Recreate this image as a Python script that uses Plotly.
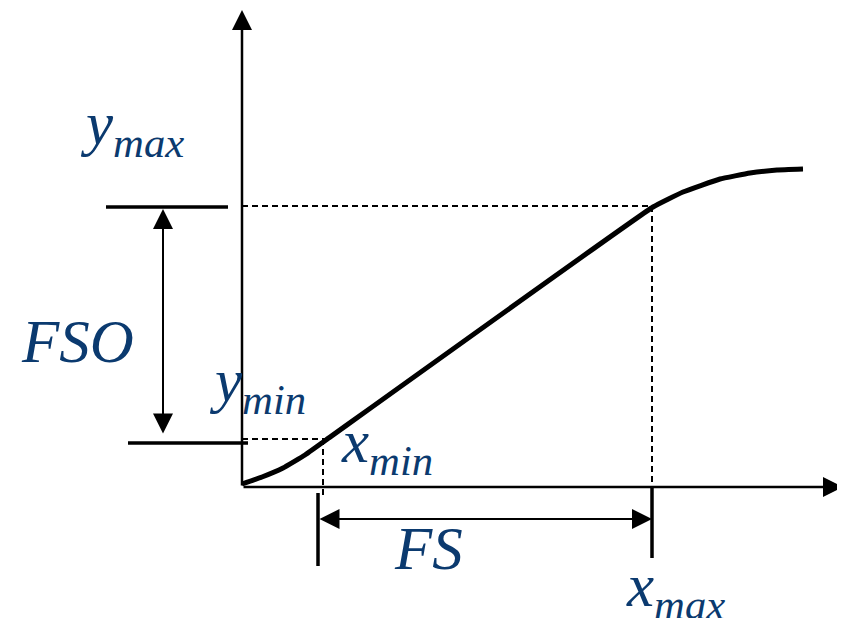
import plotly.graph_objects as go

# Characteristic curve (x = input, y = output), origin at the axes crossing
curve_x = [0, 20, 41, 63, 84, 411, 441, 478, 508, 535, 561]
curve_y = [3, 10, 19, 32, 47, 280, 295, 308, 314, 317, 318]

# Range markers
x_min, x_max = 81, 411
y_min, y_max = 47, 279
fs_tick_left, fs_tick_right = 76, 410
fso_x = -79
fs_y = -32

# Axis extents
x_axis_end = 601
y_axis_end = 477

# Label texts
labels = ["y<sub>max</sub>", "FSO", "y<sub>min</sub>", "x<sub>min</sub>", "FS", "x<sub>max</sub>"]
label_x = [-110, -165, 15, 145, 186, 433]
label_y = [359, 146, 102, 41, -61, -103]

INK = "#0B3A6F"
FONT = "Liberation Serif"

fig = go.Figure()
fig.add_trace(go.Scatter(x=curve_x, y=curve_y, mode="lines",
                         line=dict(color="black", width=5, shape="spline", smoothing=0.3),
                         hoverinfo="skip"))

shapes = []
def seg(x0, y0, x1, y1, width=2.5, dash="solid"):
    shapes.append(dict(type="line", xref="x", yref="y", x0=x0, y0=y0, x1=x1, y1=y1,
                       line=dict(color="black", width=width, dash=dash)))

# dashed projections
seg(0, y_max + 2, x_max, y_max + 2, width=2, dash="6px,4px")
seg(x_max - 1, y_max + 2, x_max - 1, 0, width=2, dash="6px,4px")
seg(0, y_min + 1, x_min + 3, y_min + 1, width=2, dash="6px,4px")
seg(x_min, y_min + 1, x_min, -12, width=2, dash="6px,4px")
# FSO level bars
seg(-136, y_max + 1, -14, y_max + 1, width=3.5)
seg(-114, y_min - 3, 6, y_min - 3, width=3.5)
# FS ticks
seg(fs_tick_left, -6, fs_tick_left, -79, width=3.5)
seg(fs_tick_right, 0, fs_tick_right, -71, width=3.5)

annotations = []
# axes arrows
annotations.append(dict(x=x_axis_end, y=0, ax=0, ay=0, xref="x", yref="y", axref="x", ayref="y",
                        showarrow=True, arrowhead=2, arrowsize=1.6, arrowwidth=2.5,
                        arrowcolor="black", text=""))
annotations.append(dict(x=0, y=y_axis_end, ax=0, ay=0, xref="x", yref="y", axref="x", ayref="y",
                        showarrow=True, arrowhead=2, arrowsize=1.6, arrowwidth=2.5,
                        arrowcolor="black", text=""))
# FSO double arrow
annotations.append(dict(x=fso_x, y=y_max - 1, ax=fso_x, ay=y_min + 5, xref="x", yref="y",
                        axref="x", ayref="y", showarrow=True, arrowhead=2, arrowside="end+start",
                        arrowsize=2.0, arrowwidth=2, arrowcolor="black", text=""))
# FS double arrow
annotations.append(dict(x=fs_tick_right, y=fs_y, ax=fs_tick_left, ay=fs_y, xref="x", yref="y",
                        axref="x", ayref="y", showarrow=True, arrowhead=2, arrowside="end+start",
                        arrowsize=2.0, arrowwidth=2, arrowcolor="black", text=""))
for t, lx, ly in zip(labels, label_x, label_y):
    annotations.append(dict(x=lx, y=ly, xref="x", yref="y", text="<i>" + t + "</i>",
                            showarrow=False, xanchor="center", yanchor="middle",
                            font=dict(family=FONT, size=61, color=INK)))

# The page body has an 8px margin, so the figure is 8px smaller and its ranges
# start 8px later so that it fills the 845x618 window.
fig.update_layout(
    width=837, height=610,
    margin=dict(l=0, r=0, t=0, b=0),
    paper_bgcolor="white", plot_bgcolor="white",
    showlegend=False,
    shapes=shapes, annotations=annotations,
    xaxis=dict(range=[-234, 603], visible=False, fixedrange=True),
    yaxis=dict(range=[-131, 479], visible=False, fixedrange=True),
)

fig.write_html("out.html")
